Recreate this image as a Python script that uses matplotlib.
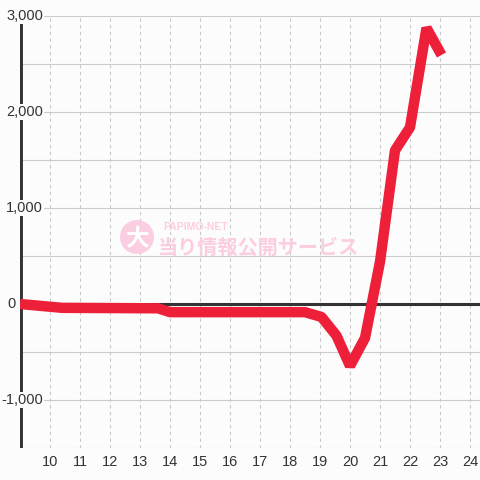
import matplotlib.pyplot as plt
from matplotlib.patches import Circle

plt.rcParams['font.family'] = ['Liberation Sans', 'DejaVu Sans']

# slump graph data (hour, balls)
hours = [9.0, 10.4, 13.6, 14.0, 18.5, 19.05, 19.55, 20.0, 20.5, 21.0, 21.5, 22.0, 22.55, 23.05]
values = [0, -40, -45, -85, -85, -135, -330, -645, -354, 440, 1600, 1840, 2875, 2594]

x_ticks = list(range(10, 25))
y_ticks = [-1000, 0, 1000, 2000, 3000]
y_grid = [-1500, -1000, -500, 0, 500, 1000, 1500, 2000, 2500, 3000]

bg = '#fbfcfb'
fig = plt.figure(figsize=(4.8, 4.8), dpi=100, facecolor=bg)
ax = fig.add_axes([20 / 480, 32 / 480, 460 / 480, 432 / 480], facecolor=bg)
ax.set_xlim(9, 9 + 460 / 30)
ax.set_ylim(-1500, 3000)

for s in ax.spines.values():
    s.set_visible(False)

# grid
for g in y_grid:
    ax.axhline(g, color='#cccccc', lw=0.8, zorder=1)
for t in x_ticks:
    ax.axvline(t, color='#c8c8c8', lw=0.8, ls=(0, (3, 3)), zorder=1)

# left axis line and zero line
ax.plot([9.03, 9.03], [-1500, 3000], color='#333333', lw=2.8, zorder=2, solid_capstyle='butt')
ax.axhline(0, color='#333333', lw=2.2, zorder=2)

ax.plot(hours, values, color='#ee2039', lw=7.5, zorder=3,
        solid_joinstyle='bevel', solid_capstyle='butt')

ax.set_xticks(x_ticks)
ax.set_xticklabels([str(t) for t in x_ticks])
ax.set_yticks([])
ax.tick_params(axis='x', length=0, pad=5, labelsize=10.5, labelcolor='#333333')

for v in y_ticks:
    # the "0" label sits left of the axis line
    xpos = 8.85 if v == 0 else 9.77
    ax.text(xpos, v, f'{v:,}', ha='right', va='center', fontsize=10.5, color='#333333',
            zorder=10, clip_on=False,
            bbox=dict(facecolor=bg, edgecolor='none', pad=0.6))

# watermark
wm = '#fbcde0'
fig.patches.append(Circle((137 / 480, 1 - 237 / 480), 17 / 480, transform=fig.transFigure,
                          facecolor=wm, edgecolor='none', zorder=0.5))
fig.text(137 / 480, 1 - 239 / 480, '大', ha='center', va='center', fontsize=17,
         fontweight='bold', color='white', family=['Noto Sans CJK JP'], zorder=0.6)
fig.text(163 / 480, 1 - 227 / 480, 'PAPIMO-NET', ha='left', va='center', fontsize=7.5,
         fontweight='bold', color=wm, zorder=0.6)
fig.text(158 / 480, 1 - 247 / 480, '当り情報公開サービス', ha='left', va='center', fontsize=14.5,
         fontweight='bold', color=wm, family=['Noto Sans CJK JP'], zorder=0.6)

fig.savefig('out.png', dpi=100, facecolor=bg)
